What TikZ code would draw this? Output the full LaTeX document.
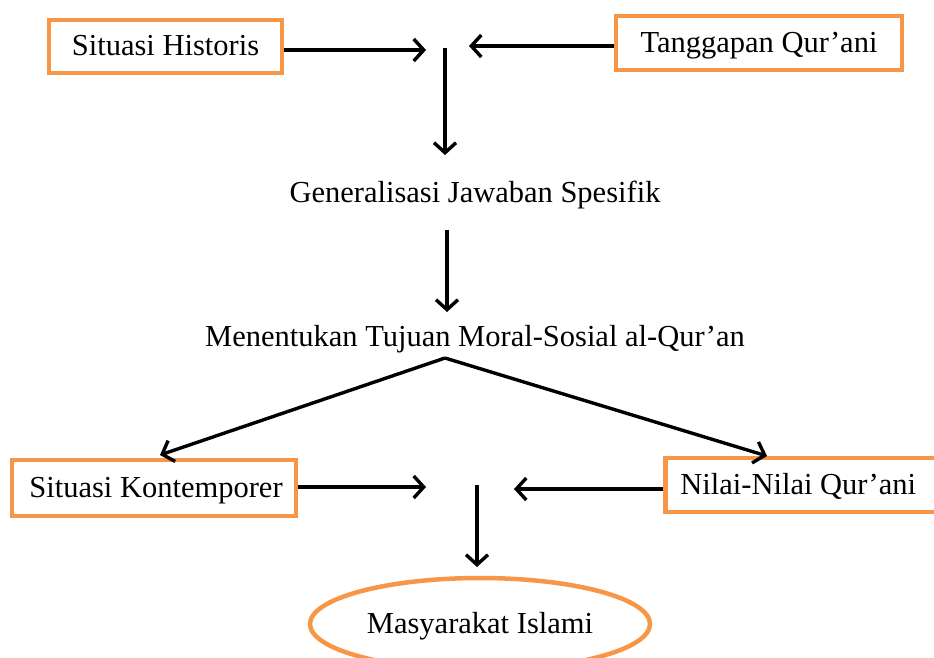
\documentclass[tikz,border=0pt]{standalone}
\usepackage{fontspec}
\setmainfont{Liberation Serif}
\usetikzlibrary{arrows.meta,shapes.geometric}
\definecolor{boxorange}{HTML}{F79646}
\begin{document}
\begin{tikzpicture}[x=1pt,y=-1pt,
  every node/.style={font=\fontsize{30.5}{36}\selectfont, inner sep=0pt, text height=20pt, text depth=2pt},
  obox/.style={draw=boxorange, line width=4.5pt, rectangle},
  oell/.style={draw=boxorange, line width=4.5pt, ellipse},
  arr/.style={line width=3.4pt, -{Straight Barb[length=10pt,width=22pt,line width=3.4pt]}}]
\useasboundingbox (0,0) rectangle (934,657);
\node[obox, minimum width=233pt, minimum height=53pt] (sh) at (165.5,46.5) {Situasi Historis};
\node[obox, minimum width=286pt, minimum height=54pt] (tq) at (759,43) {Tanggapan Qur’ani};
\coordinate (m1) at (445,48);
\coordinate (h1) at (426,50);
\coordinate (h2) at (469,46);
\draw[arr] (sh.east |- h1) -- (h1);
\draw[arr] (tq.west |- h2) -- (h2);
\node (gj) at (475,193) {Generalisasi Jawaban Spesifik};
\coordinate (v1) at (445,155);
\draw[arr] (m1) -- (v1);
\node (mt) at (475,337) {Menentukan Tujuan Moral-Sosial al-Qur’an};
\coordinate (v2a) at (447,230);
\coordinate (v2b) at (447,312);
\draw[arr] (v2a) -- (v2b);
\node[obox, minimum width=284pt, minimum height=56pt] (sk) at (154,488) {\hspace*{4pt}Situasi Kontemporer};
\node[obox, minimum width=290pt, minimum height=54pt, anchor=west] (nq) at (663,485) {\hspace*{2pt}Nilai-Nilai Qur’ani\hspace*{26pt}};
\coordinate (apex) at (445,358);
\coordinate (dl) at (160,455);
\coordinate (dr) at (767,456);
\draw[arr] (apex) -- (dl);
\draw[arr] (apex) -- (dr);
\coordinate (h3) at (426,487);
\coordinate (h4) at (514,489);
\draw[arr] (sk.east |- h3) -- (h3);
\draw[arr] (nq.west |- h4) -- (h4);
\node[oell, minimum width=340pt, minimum height=92pt] (mi) at (480,624) {Masyarakat Islami};
\coordinate (v3a) at (477,485);
\coordinate (v3b) at (477,567);
\draw[arr] (v3a) -- (v3b);
\end{tikzpicture}
\end{document}
